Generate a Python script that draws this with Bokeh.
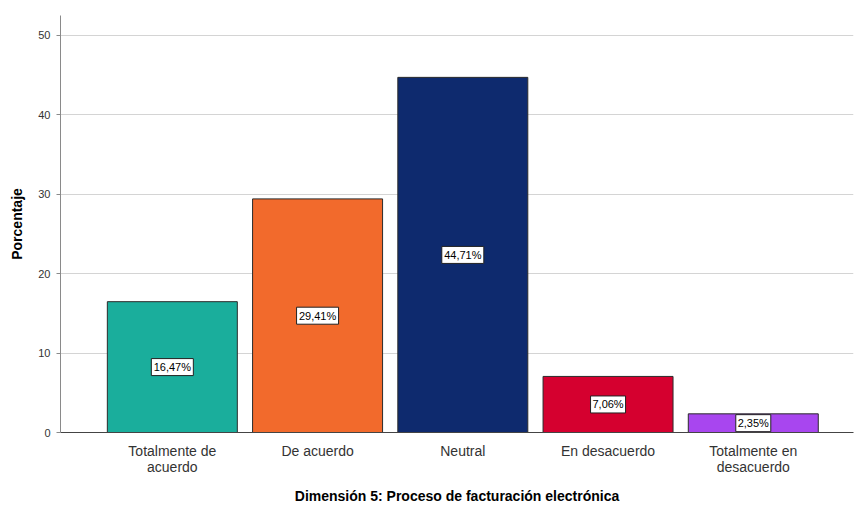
from bokeh.plotting import figure
from bokeh.models import ColumnDataSource, FixedTicker, Range1d
from bokeh.core.properties import value
from bokeh.embed import file_html
from bokeh.resources import INLINE

categories = ["Totalmente de\nacuerdo", "De acuerdo", "Neutral", "En desacuerdo", "Totalmente en\ndesacuerdo"]
values = [16.47, 29.41, 44.71, 7.06, 2.35]
colors = ["#1aae9c", "#f26a2c", "#0e2a6e", "#d5002f", "#a846ef"]
y_ticks = [0, 10, 20, 30, 40, 50]

positions = list(range(1, len(categories) + 1))
label_text = [f"{v:.2f}".replace(".", ",") + "%" for v in values]
src = ColumnDataSource(dict(
    x=positions,
    top=values,
    mid=[v / 2 for v in values],
    color=colors,
    label=label_text,
    box_w=[7 * len(t) for t in label_text],
))

FONT = "Liberation Sans"

p = figure(width=855, height=510, output_backend="svg", toolbar_location=None,
           x_range=Range1d(0.23, 5.69), y_range=Range1d(0, 52.5),
           min_border_left=60, min_border_right=2, min_border_top=15, min_border_bottom=78)
p.outline_line_color = None
p.background_fill_color = "white"

p.vbar(x="x", top="top", width=0.895, bottom=0, source=src,
       fill_color="color", line_color="#2b2b2b", line_width=1)

# value boxes at half bar height
p.rect(x="x", y="mid", width="box_w", height=17, width_units="screen", height_units="screen",
       source=src, fill_color="white", line_color="#222222", line_width=1)
p.text(x="x", y="mid", text="label", source=src,
       text_align="center", text_baseline="middle",
       text_font=value(FONT), text_font_size="11px", text_color="black")

# grid
p.xgrid.grid_line_color = None
p.ygrid.grid_line_color = "#d4d4d4"
p.ygrid.grid_line_width = 1

# y axis
p.yaxis.ticker = FixedTicker(ticks=y_ticks)
p.yaxis.axis_label = "Porcentaje"
p.yaxis.axis_label_text_font = FONT
p.yaxis.axis_label_text_font_style = "bold"
p.yaxis.axis_label_text_font_size = "14px"
p.yaxis.axis_label_text_color = "black"
p.yaxis.axis_label_standoff = 10
p.yaxis.major_label_text_font = FONT
p.yaxis.major_label_text_font_size = "11px"
p.yaxis.major_label_text_color = "#333333"
p.yaxis.axis_line_color = "#8a8a8a"
p.yaxis.major_tick_line_color = "#8a8a8a"
p.yaxis.major_tick_out = 4
p.yaxis.major_tick_in = 0
p.yaxis.minor_tick_line_color = None
p.yaxis.major_label_standoff = 6

# x axis
p.xaxis.ticker = FixedTicker(ticks=positions)
p.xaxis.major_label_overrides = {i: c for i, c in zip(positions, categories)}
p.xaxis.major_label_text_font = FONT
p.xaxis.major_label_text_font_size = "14px"
p.xaxis.major_label_text_color = "#333333"
p.xaxis.major_label_text_line_height = 1.0
p.xaxis.axis_line_color = "#444444"
p.xaxis.major_tick_line_color = None
p.xaxis.minor_tick_line_color = None
p.xaxis.major_label_standoff = 4
p.xaxis.axis_label = "Dimensión 5: Proceso de facturación electrónica"
p.xaxis.axis_label_text_font = FONT
p.xaxis.axis_label_text_font_style = "bold"
p.xaxis.axis_label_text_font_size = "14px"
p.xaxis.axis_label_text_color = "black"
p.xaxis.axis_label_standoff = 10

open("out.html", "w").write(file_html(p, INLINE))
